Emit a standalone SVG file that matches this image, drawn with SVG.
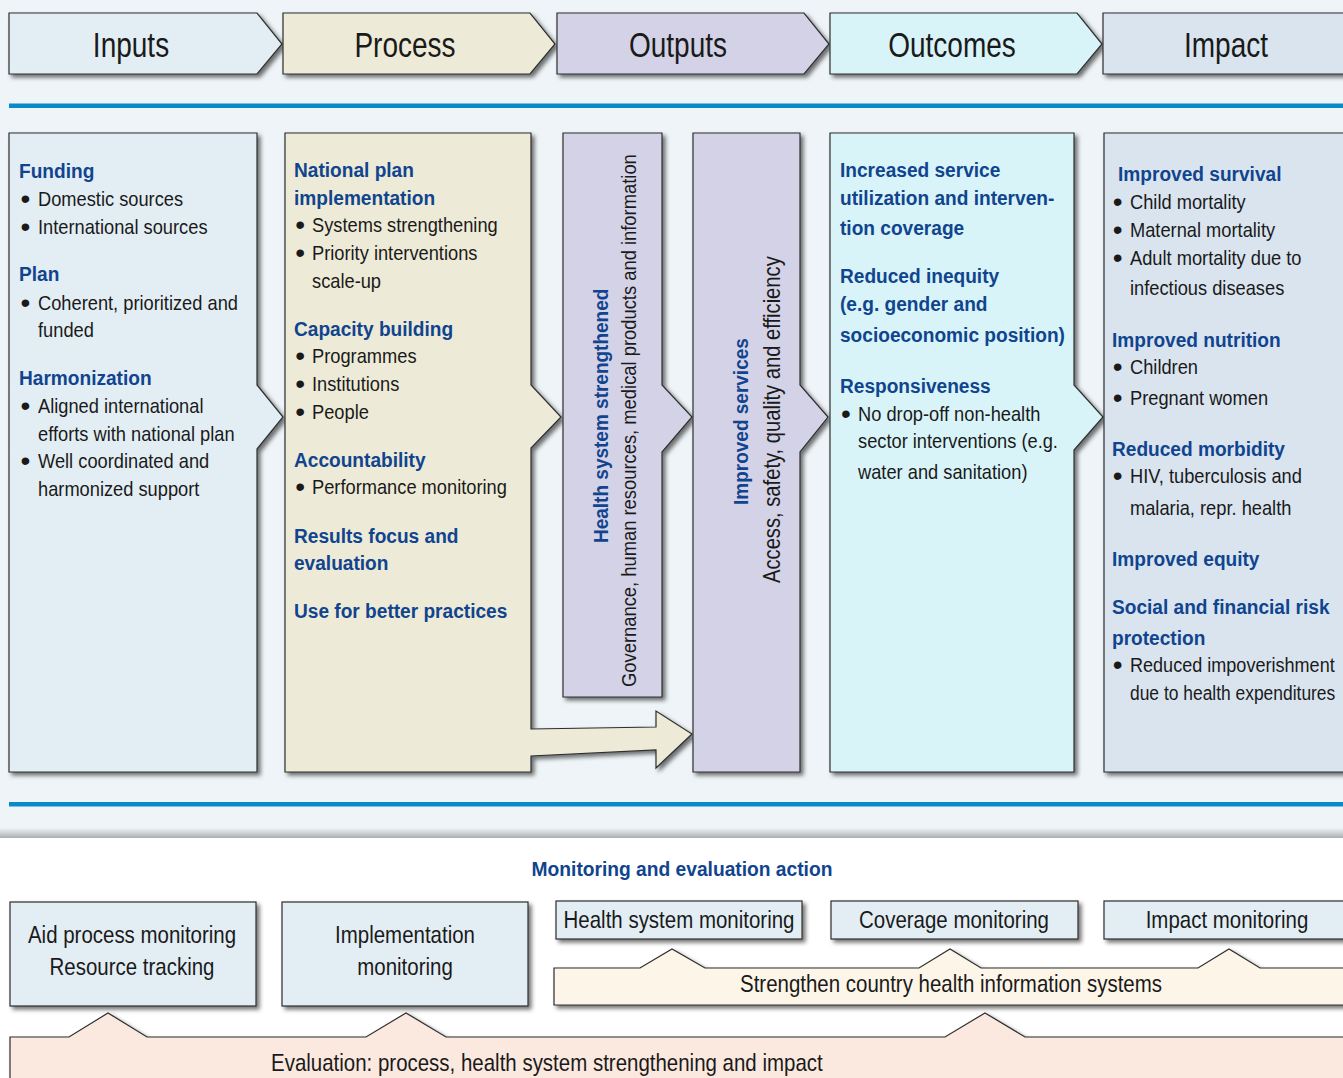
<svg xmlns="http://www.w3.org/2000/svg" width="1343" height="1078" viewBox="0 0 1343 1078">
<defs>
<filter id="sh" x="-10%" y="-10%" width="130%" height="130%">
<feDropShadow dx="3" dy="3" stdDeviation="2.2" flood-color="#000" flood-opacity="0.55"/>
</filter>
<linearGradient id="edge" x1="0" y1="0" x2="0" y2="1">
<stop offset="0" stop-color="#eef4f7"/>
<stop offset="1" stop-color="#a9aeb1"/>
</linearGradient>
<style>
text{font-family:"Liberation Sans",Arial,sans-serif;fill:#1a1a1a}
.h{font-size:35px;text-anchor:middle}
.t{font-size:21px}
.u{font-size:28px}
.b{font-size:21px;font-weight:bold;fill:#11448e}
.m{font-size:24px}
.c{text-anchor:middle}
.box{stroke:#2e2e2e;stroke-width:1.2;filter:url(#sh)}
.blue{fill:#0a8ac8}
</style>
</defs>
<rect x="0" y="0" width="1343" height="1078" fill="#ffffff"/>
<rect x="0" y="0" width="1343" height="838" fill="#eef4f7"/>
<rect x="0" y="828" width="1343" height="10" fill="url(#edge)"/>
<rect class="blue" x="9" y="103.5" width="1334" height="4.5"/>
<rect class="blue" x="9" y="802" width="1334" height="4.5"/>

<g id="hdr-inputs">
<polygon class="box" fill="#e3eef4" points="9,13 257,13 282,44 257,74 9,74"/>
<text class="h" transform="translate(131,57) scale(0.8,1)">Inputs</text>
</g>
<g id="hdr-process">
<polygon class="box" fill="#edebd7" points="283,13 530,13 555,44 530,74 283,74"/>
<text class="h" transform="translate(405,57) scale(0.8,1)">Process</text>
</g>
<g id="hdr-outputs">
<polygon class="box" fill="#d4d2e7" points="557,13 804,13 829,44 804,74 557,74"/>
<text class="h" transform="translate(678,57) scale(0.8,1)">Outputs</text>
</g>
<g id="hdr-outcomes">
<polygon class="box" fill="#d8f4f8" points="830,13 1077,13 1102,44 1077,74 830,74"/>
<text class="h" transform="translate(952,57) scale(0.8,1)">Outcomes</text>
</g>
<g id="hdr-impact">
<polygon class="box" fill="#d9e4ef" points="1103,13 1355,13 1355,74 1103,74"/>
<text class="h" transform="translate(1226,57) scale(0.8,1)">Impact</text>
</g>

<g id="col-inputs">
<polygon class="box" fill="#e3eef4" points="9,133 257,133 257,385 283,417 257,449 257,772 9,772"/>
<text class="b" transform="translate(19,178) scale(0.91,1)">Funding</text>
<text class="u" x="20.5" y="207.5">•</text><text class="t" transform="translate(38,206) scale(0.87,1)">Domestic sources</text>
<text class="u" x="20.5" y="235.5">•</text><text class="t" transform="translate(38,234) scale(0.87,1)">International sources</text>
<text class="b" transform="translate(19,281) scale(0.91,1)">Plan</text>
<text class="u" x="20.5" y="311.5">•</text><text class="t" transform="translate(38,310) scale(0.87,1)">Coherent, prioritized and</text>
<text class="t" transform="translate(38,337) scale(0.87,1)">funded</text>
<text class="b" transform="translate(19,385) scale(0.91,1)">Harmonization</text>
<text class="u" x="20.5" y="414.5">•</text><text class="t" transform="translate(38,413) scale(0.87,1)">Aligned international</text>
<text class="t" transform="translate(38,441) scale(0.87,1)">efforts with national plan</text>
<text class="u" x="20.5" y="469.5">•</text><text class="t" transform="translate(38,468) scale(0.87,1)">Well coordinated and</text>
<text class="t" transform="translate(38,496) scale(0.87,1)">harmonized support</text>
</g>

<g id="col-process">
<polygon class="box" fill="#edebd7" points="285,133 531,133 531,385 561,417 531,448 531,729 656,727 656,711 692,734 656,768 656,750 531,756 531,772 285,772"/>
<text class="b" transform="translate(294,177) scale(0.91,1)">National plan</text>
<text class="b" transform="translate(294,205) scale(0.91,1)">implementation</text>
<text class="u" x="295.3" y="233.5">•</text><text class="t" transform="translate(312,232) scale(0.87,1)">Systems strengthening</text>
<text class="u" x="295.3" y="261.5">•</text><text class="t" transform="translate(312,260) scale(0.87,1)">Priority interventions</text>
<text class="t" transform="translate(312,288) scale(0.87,1)">scale-up</text>
<text class="b" transform="translate(294,336) scale(0.91,1)">Capacity building</text>
<text class="u" x="295.3" y="364.5">•</text><text class="t" transform="translate(312,363) scale(0.87,1)">Programmes</text>
<text class="u" x="295.3" y="392.5">•</text><text class="t" transform="translate(312,391) scale(0.87,1)">Institutions</text>
<text class="u" x="295.3" y="420.5">•</text><text class="t" transform="translate(312,419) scale(0.87,1)">People</text>
<text class="b" transform="translate(294,467) scale(0.91,1)">Accountability</text>
<text class="u" x="295.3" y="495.5">•</text><text class="t" transform="translate(312,494) scale(0.87,1)">Performance monitoring</text>
<text class="b" transform="translate(294,543) scale(0.91,1)">Results focus and</text>
<text class="b" transform="translate(294,570) scale(0.91,1)">evaluation</text>
<text class="b" transform="translate(294,618) scale(0.91,1)">Use for better practices</text>
</g>

<g id="col-health-system">
<polygon class="box" fill="#d4d2e7" points="563,133 662,133 662,385 692,417 662,452 662,697 563,697"/>
<text class="b" transform="translate(608,543) rotate(-90) scale(0.905,1)">Health system strengthened</text>
<text class="t" transform="translate(636,687) rotate(-90) scale(0.875,1)">Governance, human resources, medical products and information</text>
</g>

<g id="col-improved-services">
<polygon class="box" fill="#d4d2e7" points="693,133 800,133 800,385 828,417 800,452 800,772 693,772"/>
<text class="b" transform="translate(748,505) rotate(-90) scale(0.905,1)">Improved services</text>
<text class="t" style="font-size:23px" transform="translate(780,583) rotate(-90) scale(0.878,1)">Access, safety, quality and efficiency</text>
</g>

<g id="col-outcomes">
<polygon class="box" fill="#d8f4f8" points="830,133 1074,133 1074,385 1103,417 1074,450 1074,772 830,772"/>
<text class="b" transform="translate(840,177) scale(0.91,1)">Increased service</text>
<text class="b" transform="translate(840,205) scale(0.91,1)">utilization and interven-</text>
<text class="b" transform="translate(840,235) scale(0.91,1)">tion coverage</text>
<text class="b" transform="translate(840,283) scale(0.91,1)">Reduced inequity</text>
<text class="b" transform="translate(840,311) scale(0.91,1)">(e.g. gender and</text>
<text class="b" transform="translate(840,342) scale(0.91,1)">socioeconomic position)</text>
<text class="b" transform="translate(840,393) scale(0.91,1)">Responsiveness</text>
<text class="u" x="841" y="422.5">•</text><text class="t" transform="translate(858,421) scale(0.87,1)">No drop-off non-health</text>
<text class="t" transform="translate(858,448) scale(0.87,1)">sector interventions (e.g.</text>
<text class="t" transform="translate(858,479) scale(0.87,1)">water and sanitation)</text>
</g>

<g id="col-impact">
<polygon class="box" fill="#d9e4ef" points="1104,133 1355,133 1355,772 1104,772"/>
<text class="b" transform="translate(1118,181) scale(0.91,1)">Improved survival</text>
<text class="u" x="1112.7" y="210.5">•</text><text class="t" transform="translate(1130,209) scale(0.87,1)">Child mortality</text>
<text class="u" x="1112.7" y="238.5">•</text><text class="t" transform="translate(1130,237) scale(0.87,1)">Maternal mortality</text>
<text class="u" x="1112.7" y="266.5">•</text><text class="t" transform="translate(1130,265) scale(0.87,1)">Adult mortality due to</text>
<text class="t" transform="translate(1130,295) scale(0.87,1)">infectious diseases</text>
<text class="b" transform="translate(1112,347) scale(0.91,1)">Improved nutrition</text>
<text class="u" x="1112.7" y="375.5">•</text><text class="t" transform="translate(1130,374) scale(0.87,1)">Children</text>
<text class="u" x="1112.7" y="406.5">•</text><text class="t" transform="translate(1130,405) scale(0.87,1)">Pregnant women</text>
<text class="b" transform="translate(1112,456) scale(0.91,1)">Reduced morbidity</text>
<text class="u" x="1112.7" y="484.5">•</text><text class="t" transform="translate(1130,483) scale(0.87,1)">HIV, tuberculosis and</text>
<text class="t" transform="translate(1130,515) scale(0.87,1)">malaria, repr. health</text>
<text class="b" transform="translate(1112,566) scale(0.91,1)">Improved equity</text>
<text class="b" transform="translate(1112,614) scale(0.91,1)">Social and financial risk</text>
<text class="b" transform="translate(1112,645) scale(0.91,1)">protection</text>
<text class="u" x="1112.7" y="673.5">•</text><text class="t" transform="translate(1130,672) scale(0.86,1)">Reduced impoverishment</text>
<text class="t" transform="translate(1130,700) scale(0.83,1)">due to health expenditures</text>
</g>

<g id="me-title">
<text class="b c" transform="translate(682,876) scale(0.915,1)">Monitoring and evaluation action</text>
</g>

<g id="connectors">
<g id="evaluation-band">
<polygon class="box" fill="#fbe9e0" points="10,1037 69,1037 108,1013 147,1037 366,1037 406,1013 446,1037 945,1037 985,1013 1025,1037 1355,1037 1355,1095 10,1095"/>
<text class="m" transform="translate(271,1071) scale(0.853,1)">Evaluation: process, health system strengthening and impact</text>
</g>
<g id="strengthen-band">
<polygon class="box" fill="#fdf5e8" points="554,968 640,968 672,949 705,968 919,968 950,949 981,968 1198,968 1229,949 1260,968 1355,968 1355,1005 554,1005"/>
<text class="m c" transform="translate(951,992) scale(0.853,1)">Strengthen country health information systems</text>
</g>
</g>

<g id="aid-monitoring">
<rect class="box" fill="#e3eef4" x="10" y="902" width="246" height="104"/>
<text class="m c" transform="translate(132,943) scale(0.853,1)">Aid process monitoring</text>
<text class="m c" transform="translate(132,975) scale(0.853,1)">Resource tracking</text>
</g>
<g id="implementation-monitoring">
<rect class="box" fill="#e3eef4" x="282" y="902" width="246" height="104"/>
<text class="m c" transform="translate(405,943) scale(0.853,1)">Implementation</text>
<text class="m c" transform="translate(405,975) scale(0.853,1)">monitoring</text>
</g>
<g id="health-system-monitoring">
<rect class="box" fill="#e3eef4" x="556" y="901" width="246" height="38"/>
<text class="m c" transform="translate(679,928) scale(0.853,1)">Health system monitoring</text>
</g>
<g id="coverage-monitoring">
<rect class="box" fill="#e3eef4" x="831" y="901" width="247" height="38"/>
<text class="m c" transform="translate(954,928) scale(0.853,1)">Coverage monitoring</text>
</g>
<g id="impact-monitoring">
<rect class="box" fill="#e3eef4" x="1104" y="901" width="250" height="38"/>
<text class="m c" transform="translate(1227,928) scale(0.853,1)">Impact monitoring</text>
</g>
</svg>
